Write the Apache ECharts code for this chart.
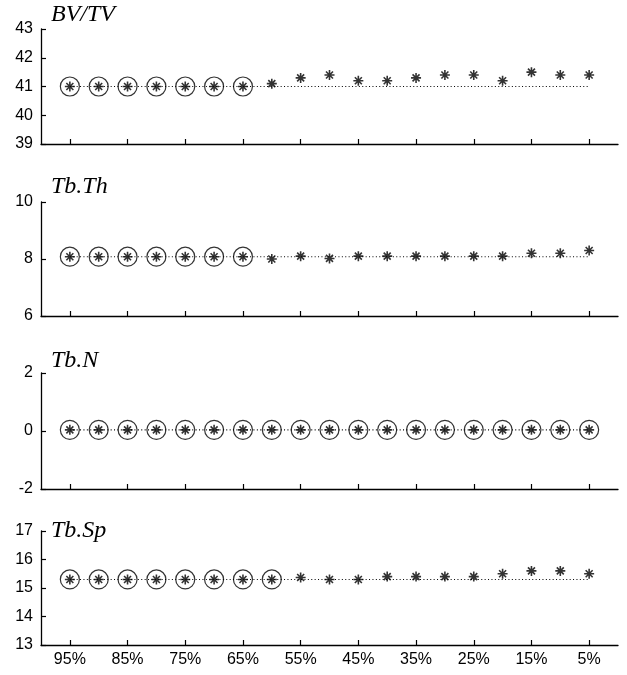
<!DOCTYPE html>
<html><head><meta charset="utf-8">
<script src="https://cdn.jsdelivr.net/npm/echarts@6/dist/echarts.min.js"></script>
<style>html,body{margin:0;padding:0;background:#fff}#c{width:627px;height:675px}</style>
</head><body><div id="c"></div>
<script>
// Data
const pct = [95,90,85,80,75,70,65,60,55,50,45,40,35,30,25,20,15,10,5];
const tickPct = [95,85,75,65,55,45,35,25,15,5];
const titles = ['BV/TV','Tb.Th','Tb.N','Tb.Sp'];
const bvtv = [41,41,41,41,41,41,41,41.1,41.3,41.4,41.2,41.2,41.3,41.4,41.4,41.2,41.5,41.4,41.4];
const tbth = [8.08,8.08,8.08,8.08,8.08,8.08,8.08,8.0,8.1,8.02,8.1,8.1,8.1,8.1,8.1,8.1,8.2,8.2,8.3];
const tbn  = [0.04,0.04,0.04,0.04,0.04,0.04,0.04,0.04,0.04,0.04,0.04,0.04,0.04,0.04,0.04,0.04,0.04,0.04,0.04];
const tbsp = [15.3,15.3,15.3,15.3,15.3,15.3,15.3,15.3,15.37,15.3,15.3,15.4,15.4,15.4,15.4,15.5,15.6,15.6,15.5];
const baselines = [41, 8.08, 0.04, 15.3];
const circledCounts = [7, 7, 19, 8];
const yMin = [39, 6, -2, 13];
const yMax = [43, 10, 2, 17];
const yInterval = [1, 2, 2, 1];
const seriesValues = [bvtv, tbth, tbn, tbsp];

const gridTops = [29, 202, 373, 531];
const gridH = [115, 114, 116, 114];
const titleTops = [2.5, 174.5, 348.5, 518.5];
const star = 'path://M0 10 L20 10 M10 0 L10 20 M3 3 L17 17 M17 3 L3 17';

const grids = [], xAxes = [], yAxes = [], series = [], graphics = [];
for (let i = 0; i < 4; i++) {
  grids.push({left: 41, right: 9, top: gridTops[i], height: gridH[i]});
  xAxes.push({
    type: 'value', gridIndex: i, min: 0, max: 100, inverse: true,
    splitLine: {show: false},
    axisLine: {show: true, onZero: false, lineStyle: {color: '#000', width: 1.3}},
    axisTick: {show: true, inside: true, length: 5, customValues: tickPct, lineStyle: {color: '#000', width: 1.2}},
    axisLabel: {show: i === 3, customValues: tickPct, formatter: '{value}%', color: '#000',
      fontFamily: 'Liberation Sans', fontSize: 16, margin: 7}
  });
  yAxes.push({
    type: 'value', gridIndex: i, min: yMin[i], max: yMax[i], interval: yInterval[i],
    splitLine: {show: false},
    axisLine: {show: true, onZero: false, lineStyle: {color: '#000', width: 1.3}},
    axisTick: {show: true, inside: true, length: 5, lineStyle: {color: '#000', width: 1.2}},
    axisLabel: {color: '#000', fontFamily: 'Liberation Sans', fontSize: 16, margin: 8}
  });
  const vals = seriesValues[i];
  series.push({
    type: 'line', xAxisIndex: i, yAxisIndex: i, symbol: 'none', silent: true,
    data: [[pct[0], baselines[i]], [pct[pct.length - 1], baselines[i]]],
    lineStyle: {color: '#000', width: 1.1, type: [1, 2.4]}, z: 1
  });
  series.push({
    type: 'scatter', xAxisIndex: i, yAxisIndex: i, symbol: star, symbolSize: 10,
    data: pct.map((p, k) => [p, vals[k]]),
    itemStyle: {color: 'none', borderColor: '#000', borderWidth: 1.6}, z: 3
  });
  series.push({
    type: 'scatter', xAxisIndex: i, yAxisIndex: i, symbol: 'circle', symbolSize: 19,
    data: pct.slice(0, circledCounts[i]).map((p, k) => [p, vals[k]]),
    itemStyle: {color: 'none', borderColor: '#000', borderWidth: 1.2}, z: 2
  });
  graphics.push({
    type: 'text', left: 51, top: titleTops[i],
    style: {text: titles[i], font: 'italic 24px "Liberation Serif"', fill: '#000'}
  });
}

const chart = echarts.init(document.getElementById('c'));
chart.setOption({
  animation: false,
  backgroundColor: '#fff',
  grid: grids, xAxis: xAxes, yAxis: yAxes, series: series, graphic: graphics
});
</script>
</body></html>
